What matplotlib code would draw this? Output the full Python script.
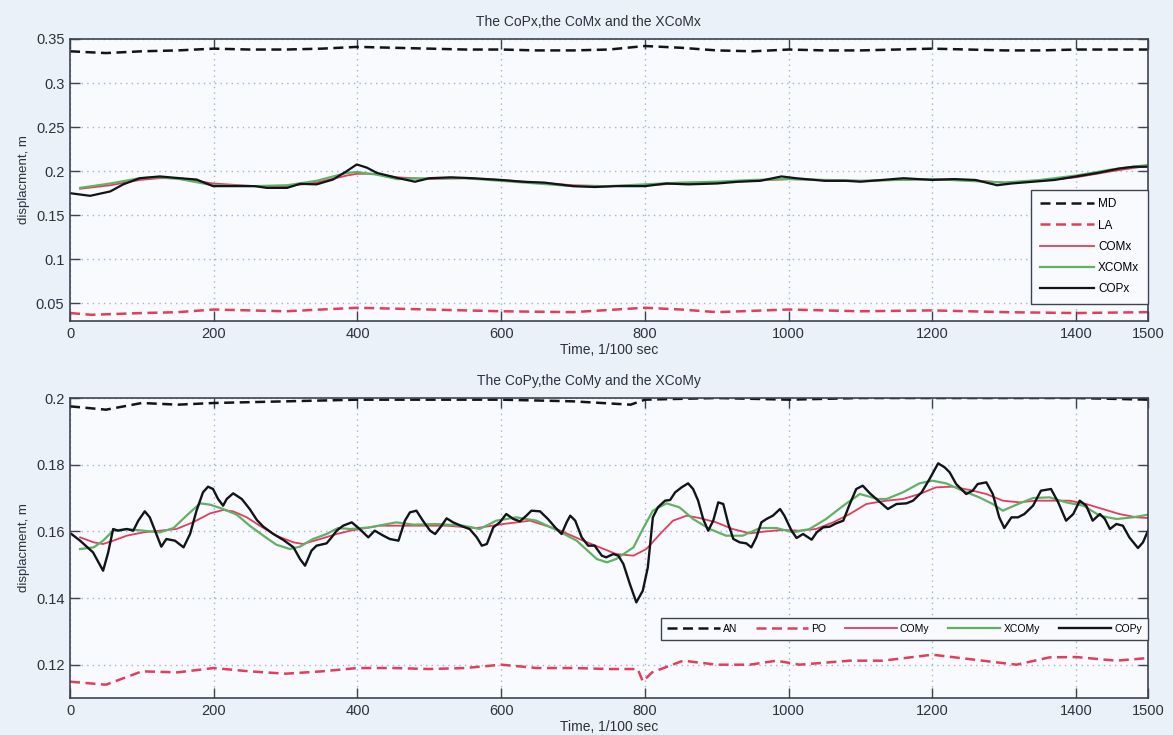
import matplotlib
matplotlib.use("Agg")
import matplotlib.pyplot as plt

plt.rcParams['font.family'] = ['Liberation Sans', 'DejaVu Sans']

# ---- sagittal (x) direction ----
md_t = [0, 50, 100, 150, 200, 250, 300, 350, 400, 450, 500, 550, 600, 650, 700, 750,
        800, 850, 900, 950, 1000, 1050, 1100, 1150, 1200, 1250, 1300, 1350, 1400, 1450, 1500]
md_v = [0.336, 0.334, 0.336, 0.337, 0.339, 0.338, 0.338, 0.339, 0.341, 0.340, 0.339, 0.338,
        0.338, 0.337, 0.337, 0.338, 0.342, 0.340, 0.337, 0.336, 0.338, 0.337, 0.337, 0.338,
        0.339, 0.338, 0.337, 0.337, 0.338, 0.338, 0.338]

la_t = [0, 30, 100, 150, 200, 300, 400, 500, 600, 700, 800, 850, 900, 1000, 1100, 1200,
        1300, 1400, 1500]
la_v = [0.039, 0.037, 0.039, 0.040, 0.043, 0.041, 0.045, 0.043, 0.041, 0.040, 0.045, 0.043,
        0.040, 0.043, 0.041, 0.042, 0.040, 0.039, 0.040]

comx_t = [14, 56, 97, 125, 153, 199, 257, 302, 343, 385, 399, 427, 455, 500, 550, 600, 650,
          700, 750, 800, 850, 900, 950, 1000, 1050, 1100, 1150, 1200, 1250, 1300, 1350,
          1400, 1450, 1500]
comx_v = [0.180, 0.184, 0.190, 0.192, 0.192, 0.186, 0.183, 0.183, 0.187, 0.195, 0.197, 0.197,
          0.193, 0.191, 0.192, 0.190, 0.187, 0.184, 0.183, 0.184, 0.186, 0.187, 0.189, 0.191,
          0.190, 0.189, 0.190, 0.191, 0.190, 0.187, 0.189, 0.193, 0.200, 0.206]

xcomx_t = comx_t
xcomx_v = [0.181, 0.186, 0.192, 0.193, 0.191, 0.184, 0.183, 0.184, 0.189, 0.198, 0.199, 0.196,
           0.191, 0.192, 0.192, 0.189, 0.186, 0.183, 0.183, 0.185, 0.187, 0.188, 0.190, 0.191,
           0.190, 0.189, 0.190, 0.191, 0.189, 0.187, 0.190, 0.195, 0.202, 0.207]

copx_t = [0, 28, 56, 74, 97, 125, 153, 176, 199, 227, 257, 274, 302, 320, 343, 366, 385,
          399, 413, 427, 455, 480, 500, 530, 560, 600, 630, 660, 700, 730, 760, 800, 830,
          860, 900, 930, 960, 990, 1010, 1050, 1080, 1100, 1130, 1160, 1200, 1230, 1260,
          1290, 1310, 1340, 1370, 1400, 1430, 1460, 1480, 1500]
copx_v = [0.175, 0.172, 0.177, 0.185, 0.192, 0.194, 0.192, 0.1905, 0.183, 0.183, 0.183,
          0.181, 0.181, 0.1856, 0.185, 0.1905, 0.200, 0.2076, 0.204, 0.198, 0.1924, 0.188,
          0.192, 0.193, 0.192, 0.190, 0.188, 0.187, 0.183, 0.182, 0.183, 0.183, 0.186,
          0.185, 0.186, 0.188, 0.189, 0.194, 0.192, 0.189, 0.189, 0.188, 0.190, 0.192,
          0.190, 0.191, 0.190, 0.184, 0.186, 0.188, 0.190, 0.194, 0.198, 0.203, 0.205, 0.205]

# ---- frontal (y) direction ----
an_t = [0, 50, 100, 150, 200, 300, 400, 500, 600, 700, 780, 800, 900, 1000, 1100, 1200,
        1300, 1400, 1500]
an_v = [0.1975, 0.1965, 0.1985, 0.198, 0.1985, 0.199, 0.1995, 0.1995, 0.1995, 0.199, 0.198,
        0.1995, 0.2, 0.1995, 0.2, 0.2, 0.2, 0.2, 0.1995]

po_t = [0, 50, 100, 150, 200, 250, 300, 350, 400, 450, 500, 550, 600, 650, 700, 750, 790,
        797, 810, 853, 900, 946, 983, 1015, 1085, 1131, 1200, 1270, 1317, 1363, 1400,
        1456, 1500]
po_v = [0.1149, 0.114, 0.118, 0.1177, 0.119, 0.118, 0.1173, 0.118, 0.119, 0.119, 0.1187,
        0.119, 0.120, 0.119, 0.119, 0.1187, 0.1187, 0.115, 0.1177, 0.1212, 0.120, 0.120,
        0.1212, 0.120, 0.1212, 0.1212, 0.123, 0.1212, 0.120, 0.1222, 0.1223, 0.1212, 0.122]

comy_t = [14, 33, 46, 60, 79, 102, 125, 148, 171, 195, 213, 227, 246, 264, 287, 311, 324,
          348, 371, 390, 431, 478, 524, 566, 603, 640, 677, 714, 737, 760, 784, 802, 821,
          839, 858, 876, 899, 922, 946, 969, 992, 1015, 1038, 1062, 1085, 1108, 1136, 1159,
          1182, 1205, 1228, 1252, 1275, 1298, 1321, 1344, 1368, 1391, 1414, 1437, 1460,
          1484, 1500]
comy_v = [0.1582, 0.1567, 0.1562, 0.1572, 0.1587, 0.1597, 0.1602, 0.1607, 0.1627, 0.1654,
          0.1664, 0.1660, 0.1642, 0.1617, 0.1587, 0.1567, 0.1562, 0.1577, 0.1592, 0.1602,
          0.1617, 0.1617, 0.1617, 0.1610, 0.1622, 0.1632, 0.1607, 0.1572, 0.1552, 0.1532,
          0.1527, 0.1547, 0.1592, 0.1632, 0.1647, 0.1640, 0.1627, 0.1607, 0.1594, 0.1600,
          0.1604, 0.1602, 0.1607, 0.1627, 0.1652, 0.1682, 0.1692, 0.1697, 0.1712, 0.1732,
          0.1734, 0.1724, 0.1712, 0.1692, 0.1687, 0.1692, 0.1692, 0.1692, 0.1682, 0.1667,
          0.1652, 0.1642, 0.1640]

xcomy_t = [14, 33, 46, 60, 79, 102, 125, 144, 162, 181, 195, 213, 232, 250, 269, 287, 306,
           320, 338, 357, 373, 390, 417, 454, 478, 510, 547, 570, 593, 621, 649, 677, 705,
           733, 747, 760, 784, 797, 811, 830, 848, 867, 890, 913, 936, 960, 983, 1006, 1029,
           1052, 1076, 1099, 1124, 1136, 1159, 1182, 1200, 1219, 1242, 1265, 1284, 1298,
           1317, 1340, 1363, 1386, 1410, 1433, 1456, 1479, 1500]
xcomy_v = [0.1547, 0.1552, 0.1572, 0.1602, 0.1607, 0.1602, 0.1597, 0.1610, 0.1647, 0.1684,
           0.1680, 0.1667, 0.1650, 0.1617, 0.1587, 0.1560, 0.1547, 0.1554, 0.1577, 0.1592,
           0.1610, 0.1607, 0.1612, 0.1627, 0.1620, 0.1622, 0.1617, 0.1607, 0.1632, 0.1642,
           0.1632, 0.1604, 0.1572, 0.1517, 0.1507, 0.1517, 0.1552, 0.1607, 0.1662, 0.1684,
           0.1672, 0.1637, 0.1607, 0.1587, 0.1587, 0.1610, 0.1610, 0.1597, 0.1607, 0.1637,
           0.1677, 0.1712, 0.1697, 0.1697, 0.1717, 0.1744, 0.1752, 0.1744, 0.1722, 0.1702,
           0.1682, 0.1662, 0.1680, 0.1700, 0.1702, 0.1687, 0.1677, 0.1647, 0.1637, 0.1642,
           0.1650]

copy_t = [2, 14, 32, 46, 53, 60, 67, 79, 88, 95, 104, 111, 120, 127, 134, 146, 158, 167,
          176, 185, 192, 199, 206, 213, 218, 227, 239, 250, 260, 269, 283, 297, 311, 320,
          327, 336, 343, 357, 364, 371, 380, 392, 403, 415, 424, 436, 445, 457, 466, 473,
          482, 491, 501, 508, 517, 524, 533, 547, 556, 566, 573, 580, 589, 598, 607, 617,
          626, 635, 642, 654, 665, 675, 684, 691, 696, 703, 712, 721, 730, 740, 746, 756,
          763, 770, 779, 788, 797, 804, 811, 818, 828, 835, 842, 851, 860, 867, 874, 881,
          888, 895, 902, 909, 916, 923, 932, 941, 948, 955, 962, 969, 978, 988, 994, 1004,
          1011, 1020, 1032, 1039, 1048, 1057, 1066, 1076, 1085, 1094, 1103, 1113, 1122,
          1138, 1150, 1164, 1173, 1185, 1196, 1208, 1217, 1224, 1233, 1247, 1256, 1263,
          1275, 1284, 1293, 1300, 1310, 1319, 1328, 1340, 1351, 1365, 1375, 1386, 1396,
          1405, 1414, 1423, 1433, 1440, 1447, 1456, 1465, 1474, 1486, 1493, 1500]
copy_v = [0.1592, 0.1572, 0.1537, 0.1482, 0.1536, 0.1607, 0.1602, 0.1607, 0.1602, 0.1632,
          0.1660, 0.1642, 0.1592, 0.1554, 0.1577, 0.1572, 0.1552, 0.1592, 0.1662, 0.1717,
          0.1734, 0.1727, 0.1697, 0.1677, 0.1697, 0.1714, 0.1697, 0.1667, 0.1634, 0.1614,
          0.1592, 0.1574, 0.1552, 0.1517, 0.1497, 0.1542, 0.1557, 0.1564, 0.1582, 0.1602,
          0.1617, 0.1627, 0.1607, 0.1582, 0.1602, 0.1587, 0.1577, 0.1572, 0.1632, 0.1657,
          0.1662, 0.1632, 0.1602, 0.1592, 0.1617, 0.1639, 0.1627, 0.1614, 0.1607, 0.1582,
          0.1557, 0.1562, 0.1612, 0.1627, 0.1652, 0.1637, 0.1630, 0.1647, 0.1662, 0.1660,
          0.1637, 0.1612, 0.1592, 0.1627, 0.1647, 0.1632, 0.1582, 0.1557, 0.1557, 0.1527,
          0.1522, 0.1532, 0.1527, 0.1502, 0.1442, 0.1387, 0.1422, 0.1492, 0.1642, 0.1672,
          0.1692, 0.1694, 0.1717, 0.1732, 0.1744, 0.1727, 0.1692, 0.1637, 0.1602, 0.1632,
          0.1687, 0.1682, 0.1622, 0.1577, 0.1567, 0.1564, 0.1552, 0.1582, 0.1627, 0.1637,
          0.1647, 0.1667, 0.1647, 0.1602, 0.1580, 0.1592, 0.1575, 0.1597, 0.1612, 0.1614,
          0.1624, 0.1632, 0.1682, 0.1727, 0.1737, 0.1714, 0.1697, 0.1667, 0.1682, 0.1684,
          0.1692, 0.1717, 0.1757, 0.1804, 0.1792, 0.1777, 0.1742, 0.1712, 0.1722, 0.1742,
          0.1747, 0.1712, 0.1642, 0.1610, 0.1642, 0.1642, 0.1652, 0.1677, 0.1722, 0.1727,
          0.1687, 0.1632, 0.1652, 0.1692, 0.1677, 0.1632, 0.1652, 0.1637, 0.1607, 0.1622,
          0.1617, 0.1582, 0.1550, 0.1567, 0.1602]

x_ticks = [0, 200, 400, 600, 800, 1000, 1200, 1400, 1500]

BLACK = '#111418'
RED = '#e23d5c'
GREEN = '#62b066'
GRID = '#9fb3d9'
SPINE = '#3d4350'
TEXT = '#2c3140'


def style_axes(ax, ylim, yticks, ylabels, title):
    ax.set_facecolor('#f8fafd')
    ax.set_xlim(0, 1500)
    ax.set_ylim(*ylim)
    ax.set_xticks(x_ticks)
    ax.set_xticklabels([str(t) for t in x_ticks])
    ax.set_yticks(yticks)
    ax.set_yticklabels(ylabels)
    ax.grid(True, linestyle=(0, (1, 3)), color=GRID, linewidth=1.0)
    ax.tick_params(direction='in', length=7, width=1, top=True, right=True,
                   labelsize=10.5, colors=SPINE, labelcolor=TEXT, pad=4)
    for s in ax.spines.values():
        s.set_color(SPINE)
        s.set_linewidth(1.2)
    ax.set_ylabel('displacment, m', fontsize=9.5, color=TEXT, labelpad=4)
    ax.set_xlabel('Time, 1/100 sec', fontsize=10, color=TEXT, labelpad=2)
    ax.text(0.481, 1.035, title, transform=ax.transAxes, ha='center', va='bottom',
            fontsize=10, color=TEXT)


def style_legend(leg):
    leg.get_frame().set_edgecolor(SPINE)
    leg.get_frame().set_facecolor('#f8fafd')
    leg.get_frame().set_linewidth(1.0)


fig = plt.figure(figsize=(11.73, 7.35), dpi=100)
fig.patch.set_facecolor('#ebf1f9')

dash = (0, (4, 2.2))

# top panel
ax1 = fig.add_axes([0.0597, 0.5633, 0.919, 0.3837])
ax1.plot(md_t, md_v, color=BLACK, linestyle=dash, linewidth=1.8, label='MD')
ax1.plot(la_t, la_v, color=RED, linestyle=dash, linewidth=1.8, label='LA')
ax1.plot(comx_t, comx_v, color=RED, linewidth=1.3, label='COMx')
ax1.plot(xcomx_t, xcomx_v, color=GREEN, linewidth=1.6, label='XCOMx')
ax1.plot(copx_t, copx_v, color=BLACK, linewidth=1.6, label='COPx')
style_axes(ax1, (0.03, 0.35), [0.05, 0.1, 0.15, 0.2, 0.25, 0.3, 0.35],
           ['0.05', '0.1', '0.15', '0.2', '0.25', '0.3', '0.35'],
           'The CoPx,the CoMx and the XCoMx')
leg1 = ax1.legend(loc='lower right', bbox_to_anchor=(1.0, 0.06), borderaxespad=0,
                  fontsize=8.5, handlelength=4.6, handletextpad=0.3, labelspacing=0.78,
                  borderpad=0.75, fancybox=False, framealpha=1)
style_legend(leg1)

# bottom panel
ax2 = fig.add_axes([0.0597, 0.0503, 0.919, 0.4082])
ax2.plot(an_t, an_v, color=BLACK, linestyle=dash, linewidth=1.8, label='AN')
ax2.plot(po_t, po_v, color=RED, linestyle=dash, linewidth=1.8, label='PO')
ax2.plot(comy_t, comy_v, color=RED, linewidth=1.3, label='COMy')
ax2.plot(xcomy_t, xcomy_v, color=GREEN, linewidth=1.6, label='XCOMy')
ax2.plot(copy_t, copy_v, color=BLACK, linewidth=1.7, label='COPy')
style_axes(ax2, (0.11, 0.2), [0.12, 0.14, 0.16, 0.18, 0.2],
           ['0.12', '0.14', '0.16', '0.18', '0.2'],
           'The CoPy,the CoMy and the XCoMy')
leg2 = ax2.legend(loc='lower right', bbox_to_anchor=(1.0, 0.193), borderaxespad=0,
                  ncol=5, fontsize=7.5, handlelength=5.0, handletextpad=0.3,
                  columnspacing=1.8, borderpad=0.6, fancybox=False, framealpha=1)
style_legend(leg2)

fig.savefig('out.png', dpi=100, facecolor=fig.get_facecolor())
